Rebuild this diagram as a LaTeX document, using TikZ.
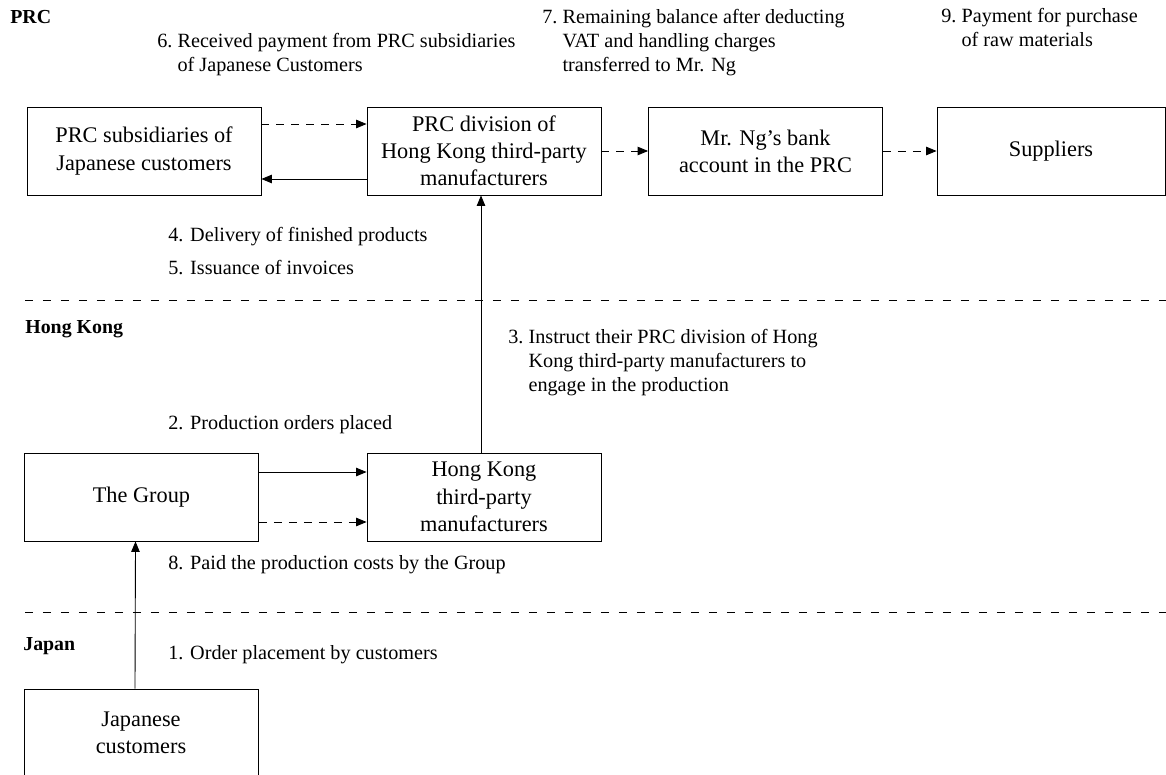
\documentclass[tikz,border=0pt]{standalone}
\usepackage{fontspec}
\setmainfont{Liberation Serif}
\usetikzlibrary{arrows.meta}

\tikzset{
  party/.style={draw, line width=0.5pt, minimum width=4.68cm, minimum height=1.76cm,
    align=center, inner sep=0pt, font=\fontsize{12.7}{15.5}\selectfont},
  note/.style={anchor=base west, inner sep=0pt, font=\fontsize{11.5}{13.7}\selectfont},
  region/.style={anchor=base west, inner sep=0pt, font=\fontsize{11.3}{13.7}\selectfont\bfseries},
  flow/.style={-{Triangle[length=2.1mm,width=1.7mm]}, line width=0.5pt},
  cash/.style={flow, dash pattern=on 1.6mm off 1.4mm},
  border/.style={line width=0.5pt, dash pattern=on 1.6mm off 2mm}
}

\begin{document}
\begin{tikzpicture}[x=0.02cm, y=-0.02cm]
    \useasboundingbox (0,0) rectangle (1166,774);

    % parties
    \node[party] (sub) at (144,151) {PRC subsidiaries of\\Japanese customers};
    \node[party] (div) at (484,151) {PRC division of\\Hong Kong third-party\\manufacturers};
    \node[party] (ng) at (765.5,151) {Mr. Ng's bank\\account in the PRC};
    \node[party, minimum width=4.56cm] (sup) at (1051,151) {Suppliers};
    \node[party] (group) at (141.5,497) {The Group};
    \node[party] (hk) at (484,497) {Hong Kong\\third-party\\manufacturers};
    \node[party] (jp) at (141,733) {Japanese\\customers};

    % regions
    \node[region] (prc) at (10,23) {PRC};
    \node[region] (hkg) at (25,333) {Hong Kong};
    \node[region] (jpn) at (23,650) {Japan};
    \draw[border] (25,300) -- (1166,300);
    \draw[border] (25,612) -- (1166,612);

    % steps
    \node[note] (s1) at (168,659) {1. Order placement by customers};
    \node[note] (s2) at (168,429) {2. Production orders placed};
    \node[note] (s3) at (508,343) {\begin{tabular}[t]{@{}l@{\ }l@{}}3. & Instruct their PRC division of Hong\\ & Kong third-party manufacturers to\\ & engage in the production\end{tabular}};
    \node[note] (s4) at (168,241) {4. Delivery of finished products};
    \node[note] (s5) at (168,274) {5. Issuance of invoices};
    \node[note] (s6) at (157,47) {\begin{tabular}[t]{@{}l@{\ }l@{}}6. & Received payment from PRC subsidiaries\\ & of Japanese Customers\end{tabular}};
    \node[note] (s7) at (542,23) {\begin{tabular}[t]{@{}l@{\ }l@{}}7. & Remaining balance after deducting\\ & VAT and handling charges\\ & transferred to Mr. Ng\end{tabular}};
    \node[note] (s8) at (168,569) {8. Paid the production costs by the Group};
    \node[note] (s9) at (941,22) {\begin{tabular}[t]{@{}l@{\ }l@{}}9. & Payment for purchase\\ & of raw materials\end{tabular}};

    % flows
    \draw[flow] ([xshift=-0.12cm]jp.north) -- ([xshift=-0.12cm]group.south);
    \draw[flow] ([yshift=0.5cm]group.east) -- ([yshift=0.5cm]hk.west);
    \draw[cash] ([yshift=-0.5cm]group.east) -- ([yshift=-0.5cm]hk.west);
    \draw[flow] ([xshift=-0.06cm]hk.north) -- ([xshift=-0.06cm]div.south);
    \draw[cash] ([yshift=0.54cm]sub.east) -- ([yshift=0.54cm]div.west);
    \draw[flow] ([yshift=-0.56cm]div.west) -- ([yshift=-0.56cm]sub.east);
    \draw[cash] (div) -- (ng);
    \draw[cash] (ng) -- (sup);
\end{tikzpicture}
\end{document}
